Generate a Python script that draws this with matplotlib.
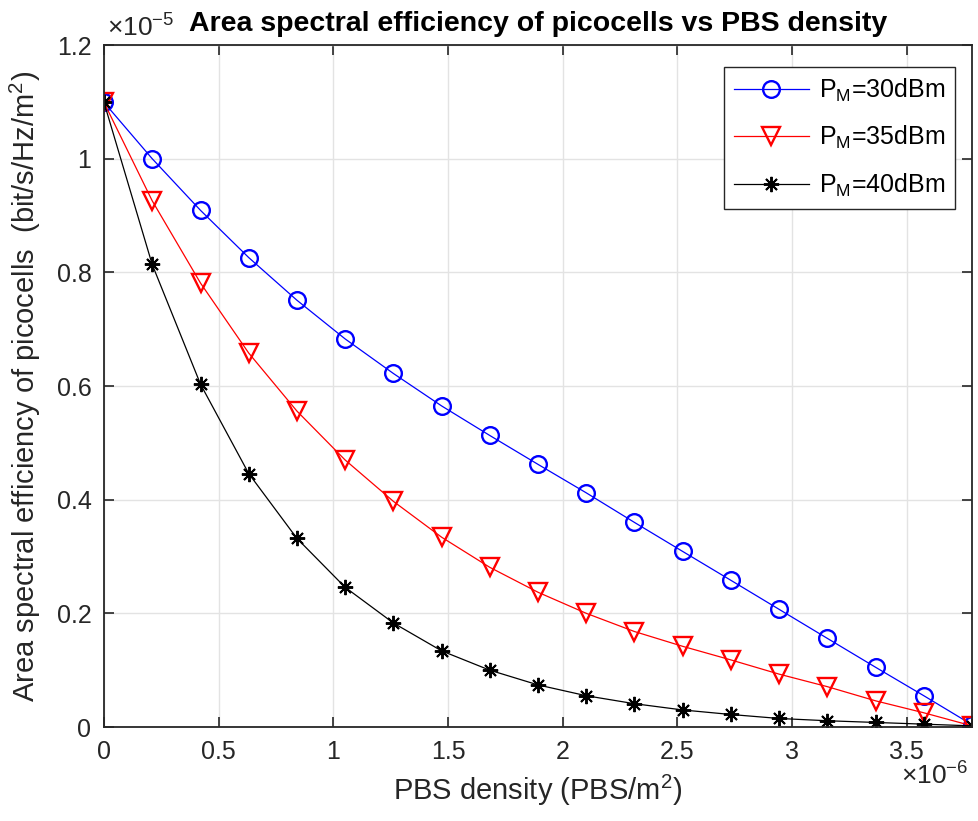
import numpy as np
import matplotlib
matplotlib.use("Agg")
import matplotlib.pyplot as plt
from matplotlib.ticker import FuncFormatter

plt.rcParams['font.family'] = ['Liberation Sans', 'DejaVu Sans']
plt.rcParams['mathtext.fontset'] = 'custom'
plt.rcParams['mathtext.rm'] = 'Liberation Sans'
plt.rcParams['mathtext.it'] = 'Liberation Sans:italic'

# PBS density (x 1e-6 PBS/m^2)
density = [0.0, 0.210, 0.421, 0.631, 0.841, 1.051, 1.262, 1.472, 1.682, 1.893,
           2.103, 2.313, 2.523, 2.734, 2.944, 3.154, 3.365, 3.575, 3.785]
# area spectral efficiency (x 1e-5 bit/s/Hz/m^2)
ase_30 = [1.099, 1.000, 0.909, 0.826, 0.751, 0.683, 0.622, 0.565, 0.513, 0.462,
          0.412, 0.360, 0.309, 0.258, 0.207, 0.156, 0.105, 0.055, 0.004]
ase_35 = [1.099, 0.926, 0.781, 0.658, 0.556, 0.470, 0.397, 0.334, 0.281, 0.237,
          0.200, 0.168, 0.142, 0.118, 0.093, 0.071, 0.046, 0.025, 0.002]
ase_40 = [1.099, 0.814, 0.603, 0.446, 0.332, 0.246, 0.183, 0.134, 0.100, 0.074,
          0.055, 0.041, 0.030, 0.022, 0.015, 0.011, 0.008, 0.005, 0.002]
labels = ['P$_\\mathrm{M}$=30dBm', 'P$_\\mathrm{M}$=35dBm', 'P$_\\mathrm{M}$=40dBm']

x = np.array(density) * 1e-6

W, H = 979, 821
fig = plt.figure(figsize=(W / 100, H / 100), dpi=100)
ax = fig.add_axes([104 / W, 1 - 727 / H, (972 - 104) / W, (727 - 45) / H])

ax.plot(x, np.array(ase_30) * 1e-5, '-o', color='blue', lw=0.9, ms=12,
        mfc='none', mew=1.7, label=labels[0])
ax.plot(x, np.array(ase_35) * 1e-5, '-v', color='red', lw=0.9, ms=13.5,
        mfc='none', mew=1.7, label=labels[1])
ax.plot(x, np.array(ase_40) * 1e-5, '-', color='black', lw=0.9, marker=(8, 2, 0),
        ms=11, mew=1.4, label=labels[2])

ax.set_xlim(0, x[-1])
ax.set_ylim(0, 1.2e-5)
ax.set_xticks(np.arange(0, 3.6, 0.5) * 1e-6)
ax.set_yticks(np.arange(0, 1.21, 0.2) * 1e-5)
ax.xaxis.set_major_formatter(FuncFormatter(lambda v, p: '%g' % round(v / 1e-6, 3)))
ax.yaxis.set_major_formatter(FuncFormatter(lambda v, p: '%g' % round(v / 1e-5, 3)))
ax.tick_params(direction='in', length=7, width=1.2, labelsize=18, colors='#262626',
               top=True, right=True, pad=9)
for s in ax.spines.values():
    s.set_linewidth(1.3)
    s.set_color('#262626')
ax.grid(True, color='#e3e3e3', lw=1.0)
ax.set_axisbelow(True)

ax.set_title('Area spectral efficiency of picocells vs PBS density',
             fontsize=20.5, fontweight='bold', pad=10)
ax.set_xlabel('PBS density (PBS/m$^2$)', fontsize=21, color='#262626', labelpad=7)
ax.set_ylabel('Area spectral efficiency of picocells  (bit/s/Hz/m$^2$)', fontsize=21,
              color='#262626', labelpad=10)

fig.text(107 / W, 1 - 37 / H, '$\\times$10$^{-5}$', fontsize=19, color='#262626')
fig.text(901 / W, 1 - 785 / H, '$\\times$10$^{-6}$', fontsize=19, color='#262626')

leg = ax.legend(loc='upper right', bbox_to_anchor=(0.9804, 0.9677), borderaxespad=0,
                fontsize=18, handlelength=3.0, fancybox=False, edgecolor='#262626',
                framealpha=1, borderpad=0.4, labelspacing=0.8, handletextpad=0.4)
leg.get_frame().set_linewidth(1.0)

fig.savefig('out.png', dpi=100)
